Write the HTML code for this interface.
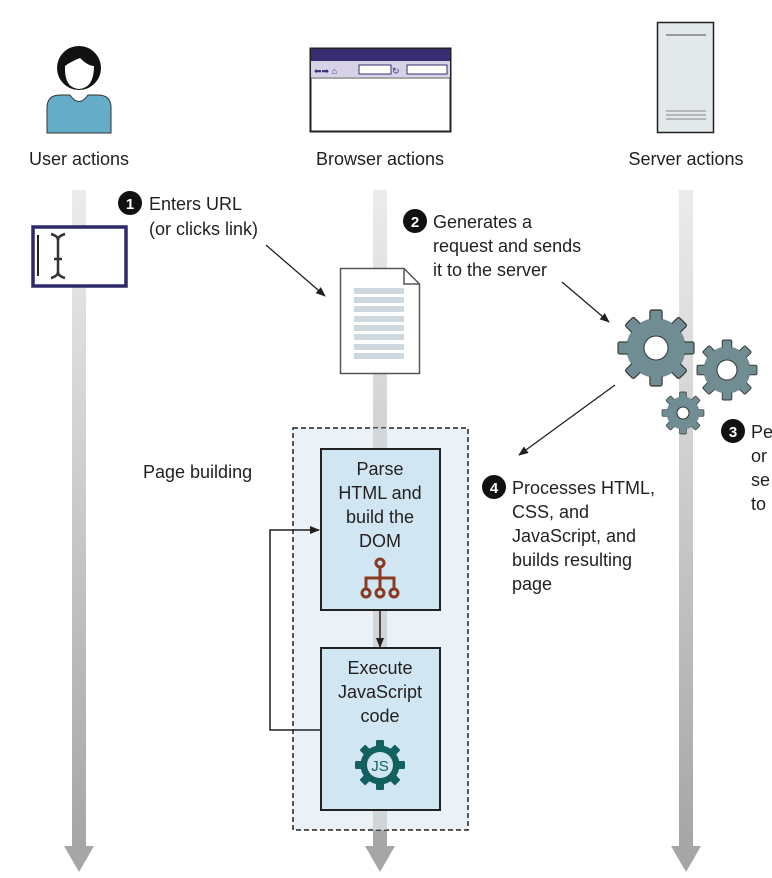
<!DOCTYPE html>
<html><head><meta charset="utf-8"><style>
html,body{margin:0;padding:0;background:#fff}
svg{display:block}
text{font-family:"Liberation Sans",Arial,sans-serif;font-size:18px;fill:#231f20}
.n{font-size:15px;fill:#fff;font-weight:bold;text-anchor:middle}
</style></head><body>
<svg width="772" height="878" viewBox="0 0 772 878" xmlns="http://www.w3.org/2000/svg">
<defs>
<linearGradient id="lg" x1="0" y1="0" x2="0" y2="1"><stop offset="0" stop-color="#ececec"/><stop offset="1" stop-color="#a6a6a6"/></linearGradient>
<g id="gear">
<circle r="0.78" vector-effect="non-scaling-stroke"/>
<g><rect x="-0.16" y="-1" width="0.32" height="0.4" rx="0.05"/>
<rect x="-0.16" y="-1" width="0.32" height="0.4" rx="0.05" transform="rotate(45)"/>
<rect x="-0.16" y="-1" width="0.32" height="0.4" rx="0.05" transform="rotate(90)"/>
<rect x="-0.16" y="-1" width="0.32" height="0.4" rx="0.05" transform="rotate(135)"/>
<rect x="-0.16" y="-1" width="0.32" height="0.4" rx="0.05" transform="rotate(180)"/>
<rect x="-0.16" y="-1" width="0.32" height="0.4" rx="0.05" transform="rotate(225)"/>
<rect x="-0.16" y="-1" width="0.32" height="0.4" rx="0.05" transform="rotate(270)"/>
<rect x="-0.16" y="-1" width="0.32" height="0.4" rx="0.05" transform="rotate(315)"/></g>
</g>
<marker id="ah" markerWidth="10" markerHeight="8" refX="9" refY="4" orient="auto" markerUnits="userSpaceOnUse"><path d="M0,0 L10,4 L0,8 Z" fill="#231f20"/></marker>
</defs>

<rect x="72" y="190" width="14" height="656" fill="url(#lg)"/>
<path d="M64,846 L94,846 L79,872 Z" fill="#a6a6a6"/>
<rect x="373" y="190" width="14" height="656" fill="url(#lg)"/>
<path d="M365,846 L395,846 L380,872 Z" fill="#a6a6a6"/>
<rect x="679" y="190" width="14" height="656" fill="url(#lg)"/>
<path d="M671,846 L701,846 L686,872 Z" fill="#a6a6a6"/>

<path d="M47,133 L47,108 Q47,95 60,95 L70,95 Q79,108 88,95 L98,95 Q111,95 111,108 L111,133 Z" fill="#64acc8" stroke="#333" stroke-width="1"/>
<circle cx="79" cy="68" r="22" fill="#111"/>
<path d="M65,66 Q70,62 80,58 Q88,66 94,66 Q94,88 79,89 Q64,88 65,66 Z" fill="#fff"/>

<rect x="310.5" y="48.5" width="140" height="83" fill="#fff" stroke="#222" stroke-width="2"/>
<rect x="311" y="49" width="139" height="12" fill="#372d73"/>
<rect x="311" y="61" width="139" height="16" fill="#d8d2e8"/>
<line x1="311" y1="78" x2="450" y2="78" stroke="#888" stroke-width="1.5"/>
<rect x="359" y="65" width="32" height="9" fill="#fff" stroke="#372d73"/>
<rect x="407" y="65" width="40" height="9" fill="#fff" stroke="#372d73"/>
<text x="314" y="74" style="font-size:9px;fill:#372d73">⬅➡ ⌂</text>
<text x="392" y="74" style="font-size:9px;fill:#372d73">↻</text>

<rect x="657.5" y="22.5" width="56" height="110" fill="#e3e8ea" stroke="#222" stroke-width="1.5"/>
<line x1="666" y1="35" x2="706" y2="35" stroke="#999" stroke-width="2"/>
<line x1="666" y1="111" x2="706" y2="111" stroke="#999" stroke-width="1.2"/>
<line x1="666" y1="115" x2="706" y2="115" stroke="#999" stroke-width="1.2"/>
<line x1="666" y1="119" x2="706" y2="119" stroke="#999" stroke-width="1.2"/>

<text x="79" y="165" text-anchor="middle">User actions</text>
<text x="380" y="165" text-anchor="middle">Browser actions</text>
<text x="686" y="165" text-anchor="middle">Server actions</text>

<rect x="33" y="227" width="93" height="59" fill="#fff" stroke="#2e2a6a" stroke-width="3.5"/>
<line x1="38" y1="235" x2="38" y2="276" stroke="#222" stroke-width="2"/>
<path d="M51,234 Q58,236 58,240 L58,272 Q58,276 51,278 M65,234 Q58,236 58,240 M58,272 Q58,276 65,278 M54,259 L62,259" fill="none" stroke="#333" stroke-width="2.5"/>

<circle cx="130" cy="203" r="12" fill="#111"/><text x="130" y="209" class="n">1</text>
<text x="149" y="210">Enters URL</text>
<text x="149" y="235">(or clicks link)</text>
<line x1="266" y1="245" x2="325" y2="296" stroke="#231f20" stroke-width="1.3" marker-end="url(#ah)"/>

<path d="M340.5,268.5 L404,268.5 L419.5,284 L419.5,373.5 L340.5,373.5 Z" fill="#fff" stroke="#555" stroke-width="1.5"/>
<path d="M404,268.5 L404,284 L419.5,284" fill="none" stroke="#555" stroke-width="1.5"/>
<g fill="#cdd9de">
<rect x="354" y="288" width="50" height="6"/><rect x="354" y="297" width="50" height="6"/><rect x="354" y="306" width="50" height="6"/><rect x="354" y="316" width="50" height="6"/><rect x="354" y="325" width="50" height="6"/><rect x="354" y="334" width="50" height="6"/><rect x="354" y="344" width="50" height="6"/><rect x="354" y="353" width="50" height="6"/>
</g>

<circle cx="415" cy="221" r="12" fill="#111"/><text x="415" y="227" class="n">2</text>
<text x="433" y="228">Generates a</text>
<text x="433" y="252">request and sends</text>
<text x="433" y="276">it to the server</text>
<line x1="562" y1="282" x2="609" y2="322" stroke="#231f20" stroke-width="1.3" marker-end="url(#ah)"/>

<g fill="#6f8d93" stroke="#333" stroke-width="0.03">
<use href="#gear" transform="translate(656,348) scale(38)"/>
<use href="#gear" transform="translate(727,370) scale(30)"/>
<use href="#gear" transform="translate(683,413) scale(21)"/>
</g>
<g fill="#6f8d93">
<circle cx="656" cy="348" r="29"/><circle cx="727" cy="370" r="23"/><circle cx="683" cy="413" r="16"/>
</g>
<circle cx="656" cy="348" r="12" fill="#fff" stroke="#333"/>
<circle cx="727" cy="370" r="10" fill="#fff" stroke="#333"/>
<circle cx="683" cy="413" r="6" fill="#fff" stroke="#333"/>
<line x1="615" y1="385" x2="519" y2="455" stroke="#231f20" stroke-width="1.3" marker-end="url(#ah)"/>

<circle cx="733" cy="431" r="12" fill="#111"/><text x="733" y="437" class="n">3</text>
<text x="751" y="438">Pe</text>
<text x="751" y="462">or</text>
<text x="751" y="486">se</text>
<text x="751" y="510">to</text>

<circle cx="494" cy="487" r="12" fill="#111"/><text x="494" y="493" class="n">4</text>
<text x="512" y="494">Processes HTML,</text>
<text x="512" y="518">CSS, and</text>
<text x="512" y="542">JavaScript, and</text>
<text x="512" y="566">builds resulting</text>
<text x="512" y="590">page</text>

<rect x="293" y="428" width="175" height="402" fill="#e8f0f6" fill-opacity="0.9" stroke="#222" stroke-width="1.5" stroke-dasharray="5,3"/>
<rect x="373" y="428" width="14" height="402" fill="#c8c8c8" opacity="0.6"/>
<text x="143" y="478">Page building</text>

<rect x="321" y="449" width="119" height="161" fill="#d0e6f2" stroke="#222" stroke-width="2"/>
<text x="380" y="475" text-anchor="middle">Parse</text>
<text x="380" y="499" text-anchor="middle">HTML and</text>
<text x="380" y="523" text-anchor="middle">build the</text>
<text x="380" y="547" text-anchor="middle">DOM</text>
<g stroke="#8b3a22" stroke-width="3" fill="none">
<circle cx="380" cy="563" r="4"/><line x1="380" y1="567" x2="380" y2="578"/>
<path d="M366,590 L366,578 L394,578 L394,590 M380,578 L380,590"/>
<circle cx="366" cy="593" r="4"/><circle cx="380" cy="593" r="4"/><circle cx="394" cy="593" r="4"/>
</g>

<line x1="380" y1="610" x2="380" y2="647" stroke="#231f20" stroke-width="1.5" marker-end="url(#ah)"/>

<rect x="321" y="648" width="119" height="162" fill="#d0e6f2" stroke="#222" stroke-width="2"/>
<text x="380" y="674" text-anchor="middle">Execute</text>
<text x="380" y="698" text-anchor="middle">JavaScript</text>
<text x="380" y="722" text-anchor="middle">code</text>
<use href="#gear" transform="translate(380,765) scale(25)" fill="#12605f"/>
<circle cx="380" cy="765" r="13" fill="#d0e6f2"/>
<text x="380" y="771" text-anchor="middle" style="font-size:15px;fill:#12605f">JS</text>

<path d="M320,730 L270,730 L270,530 L319,530" fill="none" stroke="#231f20" stroke-width="1.5" marker-end="url(#ah)"/>
</svg>
</body></html>
